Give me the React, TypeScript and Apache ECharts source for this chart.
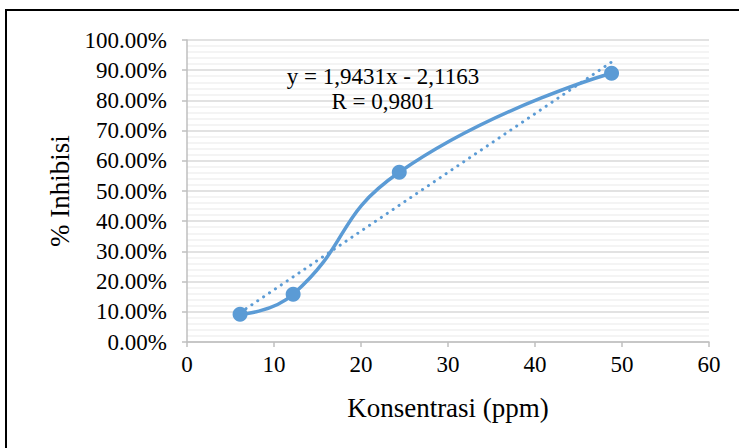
import React, { useEffect, useRef } from "react";
import * as echarts from "echarts";

const concentrations = [6.1, 12.2, 24.4, 48.8];
const inhibition = [9.2, 15.8, 56.2, 89.0];
const trendX = [6.1, 48.8];
const trendY = [9.7, 92.7];
const equationLines = ["y = 1,9431x - 2,1163", "R = 0,9801"];
const xTitle = "Konsentrasi (ppm)";
const yTitle = "% Inhibisi";

const FONT = "'Liberation Serif', 'Times New Roman', serif";
const BLUE = "#5B9BD5";

export default function App() {
  const ref = useRef<HTMLDivElement>(null);
  useEffect(() => {
    if (!ref.current) return;
    const chart = echarts.init(ref.current, undefined, { renderer: "svg" });
    chart.setOption({
      animation: false,
      backgroundColor: "#ffffff",
      grid: { left: 187, right: 30, top: 40, bottom: 106, containLabel: false },
      xAxis: {
        type: "value",
        min: 0,
        max: 60,
        interval: 10,
        name: xTitle,
        nameLocation: "middle",
        nameGap: 52,
        nameTextStyle: { fontFamily: FONT, fontSize: 27, color: "#000" },
        axisLine: { show: true, onZero: false, lineStyle: { color: "#bfbfbf", width: 1.5 } },
        axisTick: { show: true, length: 5, lineStyle: { color: "#bfbfbf", width: 1.5 } },
        axisLabel: { fontFamily: FONT, fontSize: 23, color: "#000", margin: 11 },
        splitLine: { show: false },
      },
      yAxis: {
        type: "value",
        min: 0,
        max: 100,
        interval: 10,
        name: yTitle,
        nameLocation: "middle",
        nameGap: 104,
        nameRotate: 90,
        nameTextStyle: { fontFamily: FONT, fontSize: 27, color: "#000" },
        axisLine: { show: true, lineStyle: { color: "#bfbfbf", width: 1.5 } },
        axisTick: { show: true, length: 5, lineStyle: { color: "#bfbfbf", width: 1.5 } },
        axisLabel: {
          fontFamily: FONT,
          fontSize: 23,
          color: "#000",
          margin: 20,
          formatter: (v: number) => v.toFixed(2) + "%",
        },
        splitLine: { show: true, lineStyle: { color: "#d9d9d9", width: 1.5 } },
        minorTick: { show: false, splitNumber: 5 },
        minorSplitLine: { show: true, lineStyle: { color: "#f0f0f0", width: 1.5 } },
      },
      series: [
        {
          type: "line",
          data: trendX.map((x, i) => [x, trendY[i]]),
          showSymbol: false,
          symbol: "none",
          lineStyle: { color: BLUE, width: 3, type: [0.1, 7], cap: "round" },
          z: 2,
        },
        {
          type: "line",
          data: concentrations.map((x, i) => [x, inhibition[i]]),
          smooth: 0.5,
          symbol: "circle",
          symbolSize: 15,
          itemStyle: { color: BLUE },
          lineStyle: { color: BLUE, width: 3.5 },
          z: 3,
        },
      ],
      graphic: [
        {
          type: "rect",
          shape: { x: 6, y: 10, width: 900, height: 700 },
          style: { fill: "none", stroke: "#000", lineWidth: 2 },
          silent: true,
          z: 10,
        },
        {
          type: "text",
          x: 383,
          y: 76,
          style: {
            text: equationLines[0],
            fontFamily: FONT,
            fontSize: 23,
            fill: "#000",
            align: "center",
            verticalAlign: "middle",
          },
          z: 10,
        },
        {
          type: "text",
          x: 383,
          y: 101,
          style: {
            text: equationLines[1],
            fontFamily: FONT,
            fontSize: 23,
            fill: "#000",
            align: "center",
            verticalAlign: "middle",
          },
          z: 10,
        },
      ],
    });
    return () => chart.dispose();
  }, []);
  return (
    <div
      ref={ref}
      style={{ position: "fixed", left: 0, top: 0, width: 739, height: 448 }}
    />
  );
}
